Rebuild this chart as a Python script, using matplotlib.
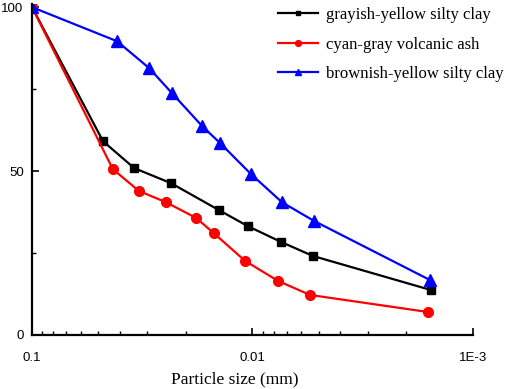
import matplotlib
matplotlib.use('Agg')
from matplotlib import pyplot as plt
from matplotlib.ticker import FixedLocator, LogLocator, NullFormatter
import numpy as np

# particle size (mm) and passing percentage for each soil
size_gray = [0.1, 0.0476, 0.0344, 0.0234, 0.0142, 0.0105, 0.00743, 0.00532, 0.00155]
pass_gray = [100, 59.1, 50.9, 46.3, 38.1, 33.2, 28.4, 24.1, 13.7]

size_ash = [0.1, 0.0430, 0.0327, 0.0247, 0.0180, 0.0150, 0.0108, 0.00766, 0.00548, 0.0016]
pass_ash = [100, 50.6, 43.9, 40.5, 35.7, 31.1, 22.6, 16.5, 12.2, 7.0]

size_brown = [0.1, 0.0411, 0.0294, 0.0232, 0.0169, 0.0140, 0.01016, 0.00735, 0.00526, 0.00157]
pass_brown = [100, 89.6, 81.4, 73.8, 63.7, 58.5, 49.1, 40.5, 34.8, 16.8]

labels = ['grayish-yellow silty clay', 'cyan-gray volcanic ash', 'brownish-yellow silty clay']
x_ticks = [0.1, 0.01, 0.001]
x_ticklabels = ['0.1', '0.01', '1E-3']
y_ticks = [0, 50, 100]

fig = plt.figure(figsize=(5.12, 3.89), dpi=100)
ax = fig.add_axes([0.0625, 0.139, 0.861, 0.851])

ax.plot(size_gray, pass_gray, color='black', lw=1.6, marker='s', ms=6, label=labels[0])
ax.plot(size_ash, pass_ash, color='red', lw=1.6, marker='o', ms=7, label=labels[1])
ax.plot(size_brown, pass_brown, color='blue', lw=1.6, marker='^', ms=8, label=labels[2])

ax.set_xscale('log')
ax.set_xlim(0.1, 0.001)
ax.set_ylim(0, 101)

ax.xaxis.set_major_locator(FixedLocator(x_ticks))
ax.set_xticklabels(x_ticklabels)
ax.xaxis.set_minor_locator(LogLocator(base=10, subs=np.arange(2, 10)))
ax.xaxis.set_minor_formatter(NullFormatter())
ax.set_yticks(y_ticks)
ax.set_yticks([25, 75], minor=True)

for s in ['top', 'right']:
    ax.spines[s].set_visible(False)
for s in ['left', 'bottom']:
    ax.spines[s].set_linewidth(1.6)

ax.tick_params(which='major', direction='in', length=5, width=1.2, labelsize=9.5, pad=6)
ax.tick_params(axis='x', which='major', pad=12)
ax.tick_params(which='minor', direction='in', length=3, width=1.0)
for t in ax.get_xticklabels() + ax.get_yticklabels():
    t.set_family('Liberation Sans')

ax.set_xlabel('Particle size (mm)', family='Liberation Serif', fontsize=12.5)
ax.xaxis.set_label_coords(0.46, -0.11)

leg = ax.legend(loc='upper right', bbox_to_anchor=(1.105, 1.035), frameon=False,
                prop={'family': 'Liberation Serif', 'size': 12},
                handlelength=2.4, markerscale=0.6, labelspacing=0.8, handletextpad=0.5)

fig.savefig('out.png', dpi=100)
